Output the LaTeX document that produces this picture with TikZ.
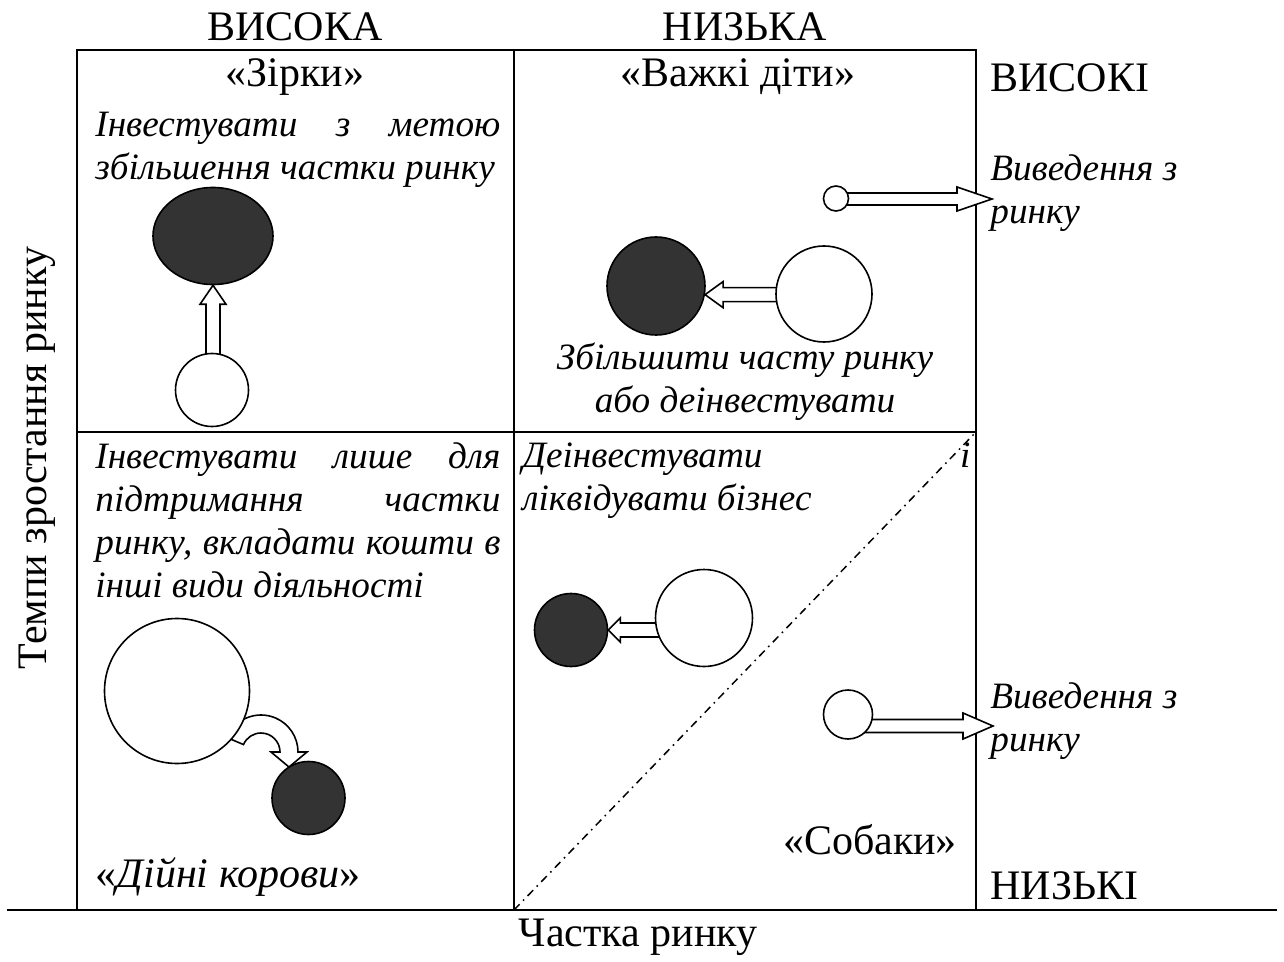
\documentclass[tikz,border=0pt]{standalone}
\usepackage{fontspec}
\setmainfont{Liberation Serif}
\usetikzlibrary{shapes.geometric,calc}
\definecolor{darkfill}{HTML}{333333}
\begin{document}
\begin{tikzpicture}[x=0.5pt,y=-0.5pt,
    lbl/.style={font=\fontsize{21}{25}\selectfont, inner sep=0},
    itx/.style={font=\fontsize{18.6}{21.5}\selectfont\itshape, inner sep=0, align=left},
    wcirc/.style={circle, draw, fill=white, line width=0.8pt, inner sep=0},
    bcirc/.style={circle, draw, fill=darkfill, line width=0.8pt, inner sep=0},
    hollow/.style={draw, fill=white, line width=0.8pt}]
    \useasboundingbox (0,0) rectangle (1284,962);
    % frame of the matrix
    \draw[line width=1pt] (77,910) -- (77,50) -- (976,50) -- (976,910);
    \draw[line width=1pt] (7,910) -- (1277,910);
    \draw[line width=1pt] (514,50) -- (514,910);
    \draw[line width=1pt] (77,432) -- (976,432);
    \draw[line width=0.75pt, dash pattern=on 4pt off 2.5pt on 0.8pt off 2.5pt] (514,910) -- (976,432);
    % axis texts
    \node[lbl] (hv) at (295,27) {ВИСОКА};
    \node[lbl] (hn) at (745,27) {НИЗЬКА};
    \node[lbl, anchor=west] (rv) at (990,78) {ВИСОКІ};
    \node[lbl, anchor=west] (rn) at (990,886) {НИЗЬКІ};
    \node[lbl] (xax) at (638,937) {Частка ринку};
    \node[lbl, rotate=90] (yax) at (37,458) {Темпи зростання ринку};
    % quadrant names
    \node[lbl] (qst) at (295,77) {«Зірки»};
    \node[lbl] (qpr) at (738,77) {«Важкі діти»};
    \node[lbl] (qdg) at (870,840) {«Собаки»};
    \node[lbl] (qcw) at (228,877) {«\textit{Дійні корови}»};
    % advice texts
    \node[itx, anchor=north west] (t1) at (95,112)
        {\makebox[202.5pt][s]{Інвестувати з метою}\\збільшення частки ринку};
    \node[itx, align=center] (t2) at (745,382) {Збільшити часту ринку\\або деінвестувати};
    \node[itx, anchor=north west] (t3) at (95,442)
        {\makebox[202.5pt][s]{Інвестувати лише для}\\\makebox[202.5pt][s]{підтримання частки}\\
         \makebox[202.5pt][s]{ринку, вкладати кошти в}\\інші види діяльності};
    \node[itx, anchor=north west] (t4) at (522,442)
        {\makebox[224pt][s]{Деінвестувати і}\\ліквідувати бізнес};
    \node[itx, anchor=west] (o1) at (990,193) {Виведення з\\ринку};
    \node[itx, anchor=west] (o4) at (990,721) {Виведення з\\ринку};
    % stars
    \node[ellipse, draw, fill=darkfill, line width=0.8pt, inner sep=0,
          minimum width=60pt, minimum height=48.5pt] (st) at (213,236) {};
    \draw[hollow] ($(st.south)+(-7,80)$) -- ($(st.south)+(-7,19)$) -- ($(st.south)+(-13,19)$)
        -- (st.south) -- ($(st.south)+(13,19)$) -- ($(st.south)+(7,19)$) -- ($(st.south)+(7,80)$) -- cycle;
    \node[wcirc, minimum size=36.5pt] (w1) at (212,390) {};
    % problem children
    \coordinate (out1) at (992,199);
    \node[bcirc, minimum size=49pt] (b2) at (656,286) {};
    \draw[hollow] ($(b2.-10)+(150,-7)$) -- ($(b2.-10)+(18,-7)$) -- ($(b2.-10)+(18,-13)$)
        -- (b2.-10) -- ($(b2.-10)+(18,13)$) -- ($(b2.-10)+(18,7)$) -- ($(b2.-10)+(150,7)$) -- cycle;
    \node[wcirc, minimum size=48pt] (w2) at (824,294) {};
    \draw[hollow] ($(out1)+(-150,-6)$) -- ($(out1)+(-35,-6)$) -- ($(out1)+(-35,-12)$)
        -- (out1) -- ($(out1)+(-35,12)$) -- ($(out1)+(-35,6)$) -- ($(out1)+(-150,6)$) -- cycle;
    \node[wcirc, minimum size=12.5pt] (e1) at (836,198.5) {};
    % cash cows
    \coordinate (cc) at (261,752);
    \draw[hollow] ($(cc)+(203:37)$) arc[start angle=203, end angle=360, radius=37]
        -- (307,752) -- (289,767) -- (271,752) -- (280,752)
        arc[start angle=360, end angle=203, radius=19] -- cycle;
    \node[wcirc, minimum size=72.5pt] (w3) at (177,691) {};
    \node[bcirc, minimum size=36.5pt] (b3) at (308.5,798) {};
    % dogs
    \node[bcirc, minimum size=36.5pt] (b4) at (571,630) {};
    \draw[hollow] ($(b4.east)+(120,-7)$) -- ($(b4.east)+(12,-7)$) -- ($(b4.east)+(12,-12)$)
        -- (b4.east) -- ($(b4.east)+(12,12)$) -- ($(b4.east)+(12,7)$) -- ($(b4.east)+(120,7)$) -- cycle;
    \node[wcirc, minimum size=48.5pt] (w4) at (704,618) {};
    \coordinate (out4) at (993,726);
    \draw[hollow] ($(out4)+(-140,-6.5)$) -- ($(out4)+(-30,-6.5)$) -- ($(out4)+(-30,-13)$)
        -- (out4) -- ($(out4)+(-30,13)$) -- ($(out4)+(-30,6.5)$) -- ($(out4)+(-140,6.5)$) -- cycle;
    \node[wcirc, minimum size=24.5pt] (e4) at (848,714.5) {};
\end{tikzpicture}
\end{document}
